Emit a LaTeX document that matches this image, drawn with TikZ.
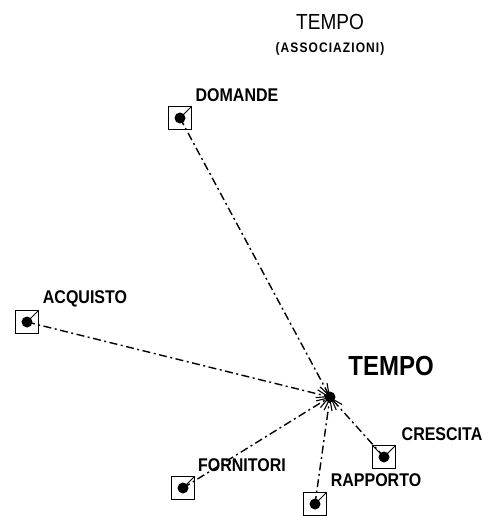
\documentclass[tikz,border=0pt]{standalone}
\usepackage{fontspec}
\setmainfont{Liberation Sans}
\usetikzlibrary{arrows.meta}

\newcommand{\tall}[1]{\scalebox{1}[1.15]{#1}}

\begin{document}
\begin{tikzpicture}[x=1pt, y=-1pt,
    ent/.style={draw, line width=1pt, minimum size=23pt, inner sep=0pt,
      path picture={
        \fill (path picture bounding box.center) circle (5.5pt);
        \draw[line width=1pt] (path picture bounding box.center) -- (path picture bounding box.north east);
      }},
    entv/.style={draw, line width=1pt, minimum size=23pt, inner sep=0pt,
      path picture={
        \fill (path picture bounding box.center) circle (5.5pt);
        \draw[line width=1pt] (path picture bounding box.north west) -- (path picture bounding box.center) -- (path picture bounding box.north east);
      }},
    lab/.style={font=\bfseries\fontsize{16}{18}\selectfont, inner sep=0pt},
    link/.style={line width=1.4pt, dash pattern=on 8pt off 3.5pt on 2pt off 3.5pt,
      -{Straight Barb[length=12pt, width=8pt, line width=1.1pt]}}]

  \useasboundingbox (0,0) rectangle (487,516);

  % title
  \node (titolo) at (330,22) {\fontsize{19}{21}\selectfont\tall{TEMPO}};
  \node (sottotitolo) at (330,49) {\addfontfeatures{LetterSpace=9}\bfseries\fontsize{12}{14}\selectfont\tall{(ASSOCIAZIONI)}};

  % Tempo
  \node[circle, fill, inner sep=0pt, minimum size=11pt] (tempo) at (330,397) {};
  \node[font=\bfseries\fontsize{24}{26}\selectfont, inner sep=0pt] (tempolab) at (391,366) {\tall{TEMPO}};

  % Domande
  \node[ent] (domande) at (180,118) {};
  \node[lab] (domandelab) at (237,95) {\tall{DOMANDE}};
  \draw[link] (domande.center) -- (tempo.center);

  % Acquisto
  \node[ent] (acquisto) at (27,322) {};
  \node[lab] (acquistolab) at (85,299) {\tall{ACQUISTO}};
  \draw[link] (acquisto.center) -- (tempo.center);

  % Fornitori
  \node[ent] (fornitori) at (183,488) {};
  \node[lab] (fornitorilab) at (242,465) {\tall{FORNITORI}};
  \draw[link] (fornitori.center) -- (tempo.center);

  % Rapporto
  \node[ent] (rapporto) at (315,504) {};
  \node[lab] (rapportolab) at (376,480) {\tall{RAPPORTO}};
  \draw[link] (rapporto.center) -- (tempo.center);

  % Crescita
  \node[entv] (crescita) at (384,457) {};
  \node[lab] (crescitalab) at (442,434) {\tall{CRESCITA}};
  \draw[link] (crescita.center) -- (tempo.center);

\end{tikzpicture}
\end{document}
